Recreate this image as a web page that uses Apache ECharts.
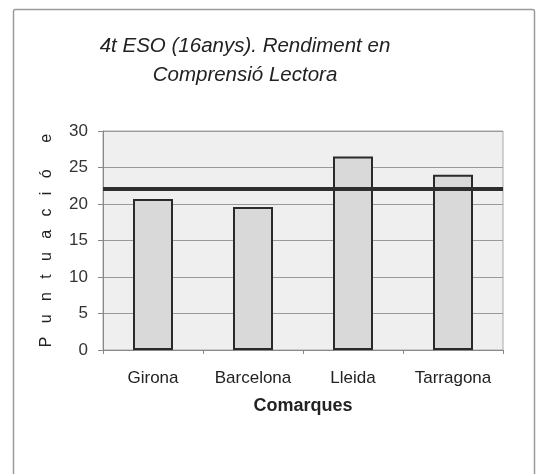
<!DOCTYPE html>
<html>
<head>
<meta charset="utf-8">
<script src="https://cdn.jsdelivr.net/npm/echarts@6/dist/echarts.min.js"></script>
<style>html,body{margin:0;padding:0;background:#fff;}#c{width:543px;height:474px;}</style>
</head>
<body>
<div id="c"></div>
<script>
var categories = ['Girona', 'Barcelona', 'Lleida', 'Tarragona'];
var scores = [20.7, 19.6, 26.5, 24.0];
var average = 22.1;
var yTicks = [0, 5, 10, 15, 20, 25, 30];
var titleText = '4t ESO (16anys). Rendiment en\nComprensió Lectora';
var xName = 'Comarques';
var yName = 'P   u   n   t   u   a   c   i   ó      e';

var chart = echarts.init(document.getElementById('c'));
chart.setOption({
  backgroundColor: '#fff',
  animation: false,
  title: {
    text: titleText,
    left: 240, top: 27, textAlign: 'center',
    textStyle: { fontFamily: 'Liberation Sans', fontStyle: 'italic', fontWeight: 'normal', fontSize: 20.5, color: '#222', lineHeight: 29 }
  },
  graphic: [{
    type: 'rect', shape: { x: 13.5, y: 9.5, width: 521, height: 480, r: 2 },
    style: { fill: 'none', stroke: '#9a9a9a', lineWidth: 1.5 }, silent: true
  }],
  grid: { left: 103, right: 40, top: 131, bottom: 124, show: true, backgroundColor: '#efefef', borderColor: '#aaa', borderWidth: 1 },
  xAxis: {
    type: 'category', data: categories,
    name: xName, nameLocation: 'middle', nameGap: 47,
    nameTextStyle: { fontFamily: 'Liberation Sans', fontWeight: 'bold', fontSize: 18, color: '#222' },
    axisLine: { lineStyle: { color: '#888', width: 1 } },
    axisTick: { show: true, length: 4, lineStyle: { color: '#888' } },
    axisLabel: { fontFamily: 'Liberation Sans', fontSize: 17, color: '#222', margin: 20 }
  },
  yAxis: {
    type: 'value', min: yTicks[0], max: yTicks[yTicks.length - 1], interval: 5,
    name: yName, nameLocation: 'middle', nameGap: 48, nameRotate: 90,
    nameTextStyle: { fontFamily: 'Liberation Sans', fontSize: 16, color: '#222' },
    axisLine: { show: true, lineStyle: { color: '#888', width: 1 } },
    axisTick: { show: true, length: 5, lineStyle: { color: '#888' } },
    axisLabel: { fontFamily: 'Liberation Sans', fontSize: 17, color: '#333', margin: 15 },
    splitLine: { lineStyle: { color: '#9a9a9a', width: 1 } }
  },
  series: [{
    type: 'bar', data: scores, barWidth: '40%',
    itemStyle: { color: '#d9d9d9', borderColor: '#2a2a2a', borderWidth: 2 },
    markLine: {
      silent: true, symbol: ['none', 'none'], label: { show: false },
      lineStyle: { color: '#2e2e2e', width: 4, type: 'solid' },
      data: [{ yAxis: average }]
    }
  }]
});
</script>
</body>
</html>
